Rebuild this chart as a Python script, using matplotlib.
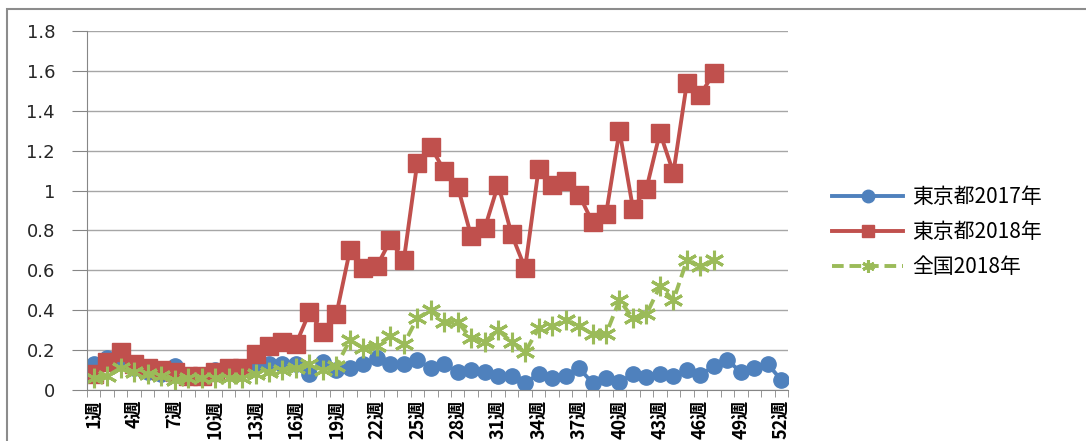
import matplotlib
matplotlib.use('Agg')
import matplotlib.pyplot as plt
from matplotlib.patches import Rectangle

plt.rcParams['font.family'] = ['Noto Sans CJK JP', 'DejaVu Sans']

# --- データ ---
weeks = list(range(1, 53))
week_labels = [f'{w}週' for w in weeks]

tokyo_2017 = [0.13, 0.16, 0.14, 0.11, 0.09, 0.08, 0.12, 0.07, 0.07, 0.10,
              0.11, 0.10, 0.12, 0.13, 0.13, 0.13, 0.08, 0.14, 0.10, 0.11,
              0.13, 0.16, 0.13, 0.13, 0.15, 0.11, 0.13, 0.09, 0.10, 0.09,
              0.07, 0.07, 0.035, 0.08, 0.06, 0.07, 0.11, 0.035, 0.06, 0.04,
              0.08, 0.065, 0.08, 0.07, 0.10, 0.075, 0.12, 0.15, 0.09, 0.11,
              0.13, 0.05]

tokyo_2018 = [0.08, 0.14, 0.19, 0.13, 0.11, 0.10, 0.09, 0.07, 0.07, 0.09,
              0.11, 0.11, 0.18, 0.22, 0.24, 0.23, 0.39, 0.29, 0.38, 0.70,
              0.61, 0.62, 0.75, 0.65, 1.14, 1.22, 1.10, 1.02, 0.77, 0.81,
              1.03, 0.78, 0.61, 1.11, 1.03, 1.05, 0.98, 0.84, 0.88, 1.30,
              0.91, 1.01, 1.29, 1.09, 1.54, 1.48, 1.59]

zenkoku_2018 = [0.06, 0.07, 0.11, 0.09, 0.08, 0.07, 0.05, 0.06, 0.06, 0.06,
                0.06, 0.06, 0.08, 0.09, 0.10, 0.11, 0.13, 0.10, 0.12, 0.25,
                0.21, 0.22, 0.27, 0.23, 0.36, 0.40, 0.34, 0.34, 0.26, 0.24,
                0.30, 0.24, 0.19, 0.31, 0.32, 0.35, 0.32, 0.28, 0.28, 0.45,
                0.36, 0.38, 0.52, 0.45, 0.65, 0.62, 0.65]

series_names = ['東京都2017年', '東京都2018年', '全国2018年']
y_ticks = [0, 0.2, 0.4, 0.6, 0.8, 1, 1.2, 1.4, 1.6, 1.8]
y_labels = ['0', '0.2', '0.4', '0.6', '0.8', '1', '1.2', '1.4', '1.6', '1.8']

# --- 描画 ---
fig = plt.figure(figsize=(10.86, 4.41), dpi=100)
ax = fig.add_axes([87 / 1086, 51 / 441, 701 / 1086, 359 / 441])

ax.plot(weeks, tokyo_2017, color='#4F81BD', lw=2.8, marker='o',
        ms=11, mec='#4F81BD', mfc='#4F81BD', label=series_names[0])
ax.plot(weeks[:len(tokyo_2018)], tokyo_2018, color='#C0504D', lw=2.8,
        marker='s', ms=12.5, mec='#C0504D', mfc='#C0504D', label=series_names[1])
ax.plot(weeks[:len(zenkoku_2018)], zenkoku_2018, color='#9BBB59', lw=2.8,
        ls=(0, (3, 1.5)), marker=(6, 2, 0), ms=14, mew=2.2,
        mec='#9BBB59', label=series_names[2])

ax.set_xlim(0.5, 52.5)
ax.set_ylim(0, 1.8)
ax.set_yticks(y_ticks)
ax.set_yticklabels(y_labels, family='DejaVu Sans', fontsize=13)
ax.yaxis.grid(True, color='#A6A6A6', lw=1)
ax.set_axisbelow(True)

# x軸: 区切り目盛り + 3週ごとのラベル
ax.set_xticks([w + 0.5 for w in range(0, 53)], minor=True)
ax.set_xticks(weeks[::3])
ax.set_xticklabels(week_labels[::3], rotation=90, fontsize=13, fontweight='bold')
ax.tick_params(axis='x', which='major', length=0, pad=7, colors='black')
ax.tick_params(axis='x', which='minor', length=5, color='#868686', direction='out')
ax.tick_params(axis='y', length=11, color='#868686', pad=12,
               labelcolor='#262626')

for side in ['top', 'right']:
    ax.spines[side].set_visible(False)
ax.spines['left'].set_color('#868686')
ax.spines['bottom'].set_color('#868686')

leg = fig.legend(loc='center left', bbox_to_anchor=(822 / 1086, 1 - 232 / 441),
                 frameon=False, fontsize=15, handlelength=3.4,
                 labelspacing=0.62, handletextpad=0.45, borderpad=0)
for h in leg.legend_handles:
    h.set_markersize(9)

# 外枠
fig.patches.append(Rectangle((7 / 1086, -0.1), 1.2, 1.1 - 9 / 441,
                             transform=fig.transFigure, fill=False,
                             edgecolor='#8C8C8C', lw=1.5))

fig.savefig('out.png', dpi=100)
